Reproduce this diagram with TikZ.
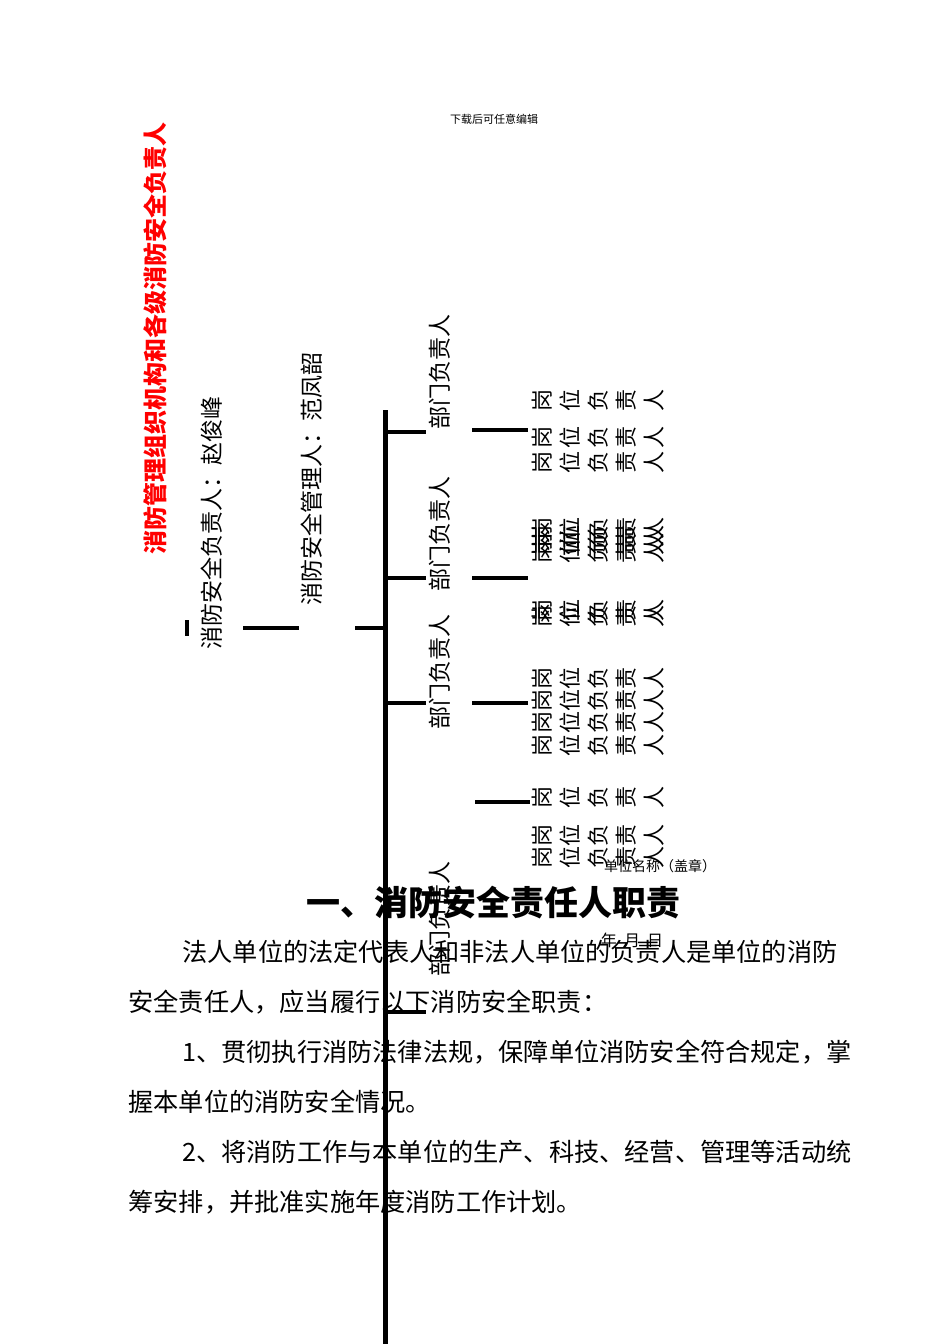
\documentclass[tikz,border=0pt]{standalone}
\usepackage{fontspec}
\newfontfamily\cjk{Noto Sans CJK SC}
\begin{document}
\begin{tikzpicture}[x=0.5pt,y=-0.5pt,
  bar/.style={line width=2pt},
  vtxt/.style={rotate=90,anchor=west,inner sep=0pt,font=\cjk\fontsize{11.5}{12}\selectfont},
  gw/.style={rotate=90,inner sep=0pt,font=\cjk\fontsize{11}{12}\selectfont},
  body/.style={anchor=west,inner sep=0pt,font=\cjk\fontsize{12.6}{14}\selectfont}]
\useasboundingbox (0,0) rectangle (950,1344);
\fill[white] (0,0) rectangle (950,1344);
\node[inner sep=0pt,font=\cjk\fontsize{5.5}{6}\selectfont] (dl) at (494,119) {下载后可任意编辑};
\node[vtxt,font=\cjk\bfseries\fontsize{12}{13}\selectfont,text=red] (title) at (155,555) {消防管理组织机构和各级消防安全负责人};
\node[vtxt] (fz) at (212,650) {消防安全负责人：赵俊峰};
\node[vtxt] (gl) at (312,606) {消防安全管理人：范凤韶};
\node[vtxt] (b1) at (440,430) {部门负责人};
\node[vtxt] (b2) at (440,592) {部门负责人};
\node[vtxt] (b3) at (440,730) {部门负责人};
\node[vtxt] (b4) at (440,977) {部门负责人};
\coordinate (t0) at (385,410); \coordinate (t1) at (385,1344);
\draw[line width=2.5pt] (t0) -- (t1);
\foreach \y in {432,578,703,1012} \draw[bar] (385,\y) -- (426,\y);
\draw[bar] (187,620) -- (187,636);
\draw[bar] (243,628) -- (299,628);
\draw[bar] (355,628) -- (385,628);
\foreach \y in {430,578,703} \draw[bar] (472,\y) -- (528,\y);
\draw[bar] (475,802) -- (530,802);
\foreach \y in {400,437,462,528,536,544,552,610,616,678,700,722,745,797,835,857}{
  \foreach \c [count=\i] in {岗,位,负,责,人}
    \node[gw] at (514+28*\i,\y) {\c};
}
\node[inner sep=0pt,font=\cjk\fontsize{7}{8}\selectfont] (dw) at (660,866) {单位名称（盖章）};
\node[inner sep=0pt,font=\cjk\fontsize{8}{9}\selectfont] (date) at (632,940) {年\ \ 月\ \ 日};
\node[inner sep=0pt,font=\cjk\bfseries\fontsize{17}{18}\selectfont] (h) at (493,903) {一、消防安全责任人职责};
\node[body] (l1) at (182,952) {法人单位的法定代表人和非法人单位的负责人是单位的消防};
\node[body] (l2) at (128,1002) {安全责任人，应当履行以下消防安全职责：};
\node[body] (l3) at (182,1052) {1、贯彻执行消防法律法规，保障单位消防安全符合规定，掌};
\node[body] (l4) at (128,1102) {握本单位的消防安全情况。};
\node[body] (l5) at (182,1152) {2、将消防工作与本单位的生产、科技、经营、管理等活动统};
\node[body] (l6) at (128,1202) {筹安排，并批准实施年度消防工作计划。};
\end{tikzpicture}
\end{document}
